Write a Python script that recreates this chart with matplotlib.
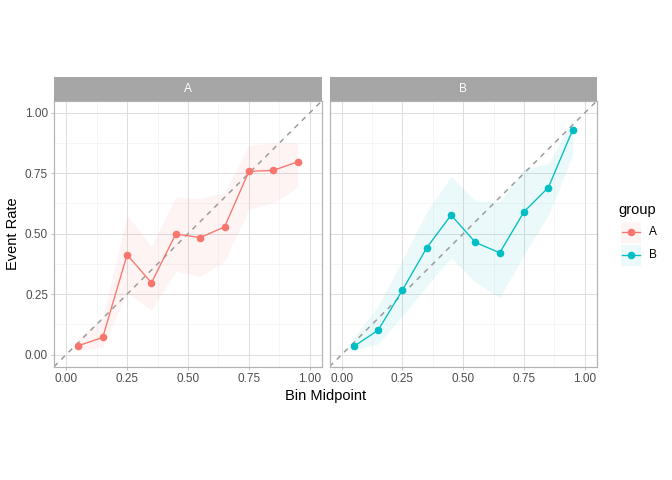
import matplotlib
matplotlib.use('Agg')
import matplotlib.pyplot as plt
from matplotlib.patches import Rectangle
from matplotlib.lines import Line2D
import numpy as np

plt.rcParams['font.family'] = ['Liberation Sans', 'DejaVu Sans']

# data
bin_mid = [0.05, 0.15, 0.25, 0.35, 0.45, 0.55, 0.65, 0.75, 0.85, 0.95]
groups = ['A', 'B']
rate_a = [0.037, 0.071, 0.413, 0.297, 0.499, 0.484, 0.528, 0.758, 0.762, 0.797]
low_a = [0.019, 0.030, 0.256, 0.185, 0.345, 0.324, 0.386, 0.601, 0.628, 0.691]
high_a = [0.071, 0.153, 0.577, 0.447, 0.652, 0.646, 0.670, 0.865, 0.876, 0.876]
rate_b = [0.034, 0.101, 0.267, 0.442, 0.577, 0.464, 0.421, 0.591, 0.691, 0.929]
low_b = [0.019, 0.044, 0.160, 0.283, 0.400, 0.300, 0.235, 0.413, 0.577, 0.824]
high_b = [0.071, 0.201, 0.393, 0.591, 0.737, 0.636, 0.632, 0.769, 0.789, 0.974]
colors = ['#F8766D', '#00BFC4']
ticks = [0.0, 0.25, 0.5, 0.75, 1.0]
tick_labels = ['0.00', '0.25', '0.50', '0.75', '1.00']

W, H = 672, 480
fig = plt.figure(figsize=(W / 96, H / 96), dpi=96)

def px_axes(l, t, r, b):
    return fig.add_axes([l / W, 1 - b / H, (r - l) / W, (b - t) / H])

panels = [(54, 322), (329.5, 597)]
top, bottom, strip_top = 100.7, 366.7, 77.3
series = [(rate_a, low_a, high_a), (rate_b, low_b, high_b)]

for i, (l, r) in enumerate(panels):
    ax = px_axes(l, top, r, bottom)
    rate, lo, hi = series[i]
    ax.set_xlim(-0.05, 1.05)
    ax.set_ylim(-0.05, 1.05)
    ax.set_xticks(ticks)
    ax.set_xticklabels(tick_labels)
    ax.set_yticks(ticks)
    ax.set_yticklabels(tick_labels if i == 0 else [])
    ax.set_xticks([0.125, 0.375, 0.625, 0.875], minor=True)
    ax.set_yticks([0.125, 0.375, 0.625, 0.875], minor=True)
    ax.grid(which='major', color='#DEDEDE', lw=0.75, zorder=0)
    ax.grid(which='minor', color='#EDEDED', lw=0.4, zorder=0)
    ax.set_axisbelow(True)
    ax.tick_params(which='minor', length=0)
    ax.tick_params(which='major', length=2.5, width=0.6, color='#B3B3B3',
                   labelsize=8.8, labelcolor='#4D4D4D', pad=2)
    if i == 1:
        ax.tick_params(axis='y', length=0)
    for s in ax.spines.values():
        s.set_color('#B3B3B3')
        s.set_linewidth(0.9)
    ax.fill_between(bin_mid, lo, hi, color=colors[i], alpha=0.08, lw=0, zorder=1)
    ax.plot([-0.05, 1.05], [-0.05, 1.05], ls=(0, (3.5, 3.5)), color='#999999', lw=1.1, zorder=2)
    ax.plot(bin_mid, rate, color=colors[i], lw=1.0, marker='o', ms=4.7, zorder=3)

    st = px_axes(l, strip_top, r, top)
    st.set_xticks([])
    st.set_yticks([])
    st.set_facecolor('#A6A6A6')
    for s in st.spines.values():
        s.set_visible(False)
    st.text(0.5, 0.5, groups[i], color='white', fontsize=8.8, ha='center', va='center',
            transform=st.transAxes)

# overlay for titles and legend, in pixel coordinates
ov = fig.add_axes([0, 0, 1, 1], zorder=-1)
ov.set_xlim(0, W)
ov.set_ylim(H, 0)
ov.axis('off')
ov.text(13, 233.7, 'Event Rate', rotation=90, ha='center', va='center', fontsize=11)
ov.text(325.5, 396, 'Bin Midpoint', ha='center', va='center', fontsize=11)
ov.text(618, 210, 'group', ha='left', va='center', fontsize=11)
for i, g in enumerate(groups):
    y0 = 222 + i * 23.2
    ov.add_patch(Rectangle((620.5, y0), 20.5, 20.5, color=colors[i], alpha=0.08, lw=0))
    ov.add_line(Line2D([621.5, 640], [y0 + 10.25] * 2, color=colors[i], lw=1.0))
    ov.plot([630.75], [y0 + 10.25], 'o', color=colors[i], ms=4.7)
    ov.text(649, y0 + 10.25, g, ha='left', va='center', fontsize=8.8)

fig.savefig('out.png', dpi=96)
